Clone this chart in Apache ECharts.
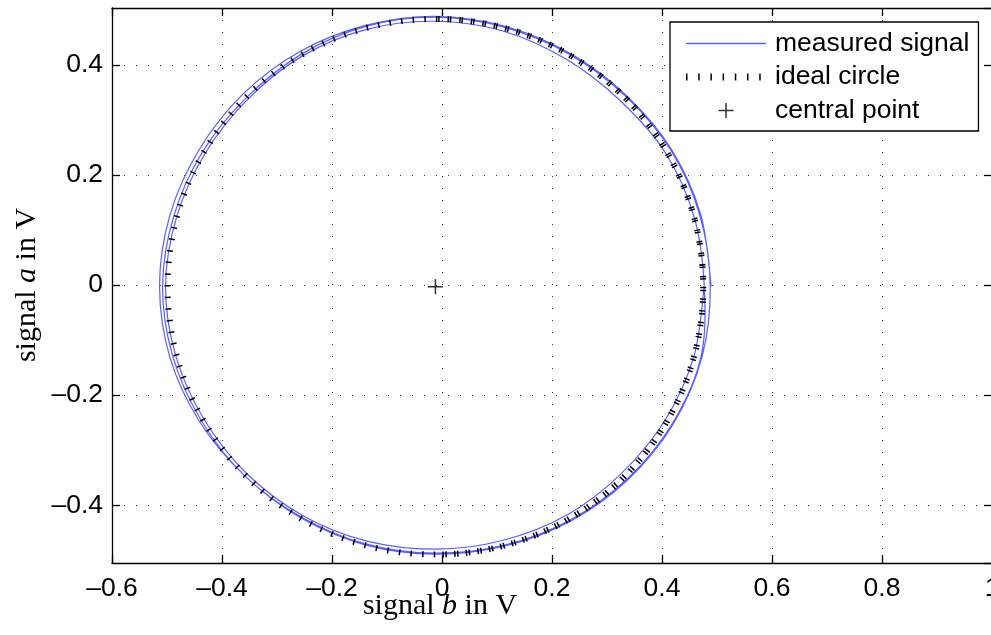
<!DOCTYPE html>
<html>
<head>
<meta charset="utf-8">
<script src="https://cdn.jsdelivr.net/npm/echarts@6/dist/echarts.min.js"></script>
<style>
	html, body { margin: 0; padding: 0; background: #fff; }
	#container { width: 991px; height: 635px; }
</style>
</head>
<body>
<div id="container"></div>
<script>
	/*measured signal, three loops: signal b (x) and signal a (y), in V*/
	var measuredB = [
		0.4895, 0.4707, 0.4176, 0.3349, 0.2324, 0.1145, -0.012, -0.139, -0.2583, -0.3615, -0.4416, -0.4947,
		-0.5135, -0.4947, -0.4401, -0.3576, -0.2555, -0.138, -0.012, 0.1145, 0.2343, 0.3388, 0.4207, 0.4724,
		0.4877, 0.4689, 0.4161, 0.3336, 0.2315, 0.114, -0.012, -0.1385, -0.2555, -0.3551, -0.4353, -0.4877,
		-0.5081, -0.4894, -0.4369, -0.3576, -0.2546, -0.1376, -0.012, 0.114, 0.2333, 0.3375, 0.4192, 0.4707,
		0.4768, 0.4584, 0.4066, 0.3247, 0.2261, 0.1121, -0.012, -0.1371, -0.2537, -0.3525, -0.4306, -0.4824,
		-0.5026, -0.4841, -0.4322, -0.3538, -0.2528, -0.1361, -0.012, 0.1117, 0.2279, 0.3272, 0.4066, 0.4584, 0.4768
	];
	var measuredA = [
		-0.002, 0.1273, 0.2461, 0.3449, 0.4213, 0.4701, 0.4886, 0.4719, 0.4245, 0.3475, 0.2461, 0.1273,
		-0.002, -0.1313, -0.2492, -0.3476, -0.4238, -0.4724, -0.489, -0.4741, -0.4285, -0.3528, -0.2519, -0.1318,
		-0.002, 0.1269, 0.2452, 0.3436, 0.4198, 0.4684, 0.4868, 0.4701, 0.4198, 0.3411, 0.2424, 0.1255,
		-0.002, -0.1299, -0.2473, -0.3476, -0.4222, -0.4707, -0.4872, -0.4724, -0.4269, -0.3515, -0.251, -0.1313,
		-0.002, 0.124, 0.2397, 0.3347, 0.4103, 0.4613, 0.4795, 0.4649, 0.4166, 0.3385, 0.2397, 0.124,
		-0.002, -0.1285, -0.2446, -0.3438, -0.419, -0.4653, -0.4799, -0.4636, -0.4174, -0.3412, -0.2437, -0.128, -0.002
	];
	/*ideal circle: centre b, centre a, radius*/
	var idealCircle = [-0.012, -0.003, 0.487];
	var centralPoint = [-0.012, -0.003];
	var legendNames = ['measured signal', 'ideal circle', 'central point'];
	var xRange = [-0.6, 1.0];
	var yRange = [-0.505, 0.5036];

	var blue = '#5c5cff';
	var labelFont = 'Liberation Sans';
	var titleFont = 'Liberation Serif';

	function tickText(v) {
		var s = String(+v.toFixed(1));
		return s.replace('-', '\u2013');
	}

	var measured = [];
	for (var i = 0; i < measuredB.length; i++) {
		measured.push([measuredB[i], measuredA[i]]);
	}

	var gridLine = { show: true, lineStyle: { color: '#333', width: 1, type: [1, 11] } };
	var boxLine = { show: true, onZero: false, lineStyle: { color: '#000', width: 1.3 } };
	var tick = { show: true, inside: true, length: 8, lineStyle: { color: '#000', width: 1.3 } };

	// legend icons, 84x16 box
	var iconBox = 'M0,0h0.01v0.01h-0.01zM83.99,15.99h0.01v0.01h-0.01z';
	var iconLine = 'path://' + iconBox + 'M0,7.3h80v1.4h-80z';
	var iconDots = 'path://' + iconBox + 'M0,4.5h1.5v7h-1.5zM12.2,4.5h1.5v7h-1.5zM24.4,4.5h1.5v7h-1.5zM36.6,4.5h1.5v7h-1.5zM48.8,4.5h1.5v7h-1.5zM61,4.5h1.5v7h-1.5zM73.2,4.5h1.5v7h-1.5z';
	var iconPlus = 'path://' + iconBox + 'M32.5,7.3h15v1.5h-15zM39.25,0.5h1.5v15h-1.5z';

	/*measured trace as one smooth path (catmull-rom through the points)*/
	function renderMeasured(params, api) {
		if (params.dataIndex > 0) {
			return null;
		}
		var pts = [];
		for (var i = 0; i < measured.length; i++) {
			pts.push(api.coord(measured[i]));
		}
		var n = pts.length;
		var d = 'M' + pts[0][0] + ',' + pts[0][1];
		for (var j = 0; j < n - 1; j++) {
			var p0 = pts[Math.max(j - 1, 0)];
			var p1 = pts[j];
			var p2 = pts[j + 1];
			var p3 = pts[Math.min(j + 2, n - 1)];
			d += 'C' + (p1[0] + (p2[0] - p0[0]) / 6) + ',' + (p1[1] + (p2[1] - p0[1]) / 6) +
				',' + (p2[0] - (p3[0] - p1[0]) / 6) + ',' + (p2[1] - (p3[1] - p1[1]) / 6) +
				',' + p2[0] + ',' + p2[1];
		}
		return {
			type: 'path',
			shape: { pathData: d },
			style: { fill: 'none', stroke: blue, lineWidth: 1.2 }
		};
	}

	/*ideal circle with dotted stroke, right half traced twice*/
	function renderCircle(params, api) {
		var c = api.coord([api.value(0), api.value(1)]);
		var r = api.size([api.value(2), 0])[0];
		var period = 2 * Math.PI * r / 144;
		var dash = [1.5, period - 1.5];
		return {
			type: 'group',
			children: [{
				type: 'circle',
				shape: { cx: c[0], cy: c[1], r: r },
				style: { fill: 'none', stroke: '#000', lineWidth: 6, lineDash: dash }
			}, {
				type: 'arc',
				shape: { cx: c[0], cy: c[1], r: r, startAngle: -Math.PI / 2, endAngle: Math.PI / 2, clockwise: true },
				style: { fill: 'none', stroke: '#000', lineWidth: 6, lineDash: dash, lineDashOffset: -2.8 }
			}]
		};
	}

	var echart = echarts.init(document.getElementById('container'));
	var option = {
		animation: false,
		backgroundColor: '#fff',
		grid: { left: 112, right: -1, top: 8, bottom: 72, containLabel: false, outerBoundsMode: 'none' },
		xAxis: [{
			type: 'value', min: xRange[0], max: xRange[1], interval: 0.2,
			axisLine: boxLine, axisTick: tick, splitLine: gridLine,
			axisLabel: {
				margin: 12, color: '#000', fontFamily: labelFont, fontSize: 26.5,
				showMinLabel: true, showMaxLabel: true, hideOverlap: false, formatter: tickText
			}
		}, {
			type: 'value', position: 'top', min: xRange[0], max: xRange[1], interval: 0.2,
			axisLine: boxLine, axisTick: tick, splitLine: { show: false }, axisLabel: { show: false }
		}],
		yAxis: [{
			type: 'value', min: yRange[0], max: yRange[1], splitNumber: 5,
			axisLine: boxLine, axisTick: tick, splitLine: gridLine,
			axisLabel: {
				margin: 9, color: '#000', fontFamily: labelFont, fontSize: 26.5,
				showMinLabel: false, showMaxLabel: false, formatter: tickText
			}
		}, {
			type: 'value', position: 'right', min: yRange[0], max: yRange[1], splitNumber: 5,
			axisLine: boxLine, axisTick: tick, splitLine: { show: false }, axisLabel: { show: false }
		}],
		legend: {
			orient: 'vertical', left: 670, top: 22,
			padding: [8, 9, 7, 16],
			itemWidth: 84, itemHeight: 16, itemGap: 6.5,
			backgroundColor: '#fff', borderColor: '#000', borderWidth: 1.3, borderRadius: 0,
			selectedMode: false,
			textStyle: { color: '#000', fontFamily: labelFont, fontSize: 26.5, lineHeight: 26 },
			data: [
				{ name: legendNames[0], icon: iconLine, itemStyle: { color: blue, borderWidth: 0 } },
				{ name: legendNames[1], icon: iconDots, itemStyle: { color: '#000', borderWidth: 0 } },
				{ name: legendNames[2], icon: iconPlus, itemStyle: { color: '#000', borderWidth: 0 } }
			]
		},
		graphic: [{
			type: 'text', x: 440, y: 606,
			style: {
				text: '{r|signal }{i|b}{r| in V}', align: 'center', verticalAlign: 'middle',
				rich: {
					r: { fontFamily: titleFont, fontSize: 30, fill: '#000' },
					i: { fontFamily: titleFont, fontSize: 30, fontStyle: 'italic', fill: '#000' }
				}
			}
		}, {
			type: 'text', x: 27, y: 285, rotation: Math.PI / 2,
			style: {
				text: '{r|signal }{i|a}{r| in V}', align: 'center', verticalAlign: 'middle',
				rich: {
					r: { fontFamily: titleFont, fontSize: 30, fill: '#000' },
					i: { fontFamily: titleFont, fontSize: 30, fontStyle: 'italic', fill: '#000' }
				}
			}
		}],
		series: [{
			name: legendNames[0],
			type: 'custom',
			data: measured,
			color: blue,
			itemStyle: { color: blue },
			renderItem: renderMeasured,
			z: 2
		}, {
			name: legendNames[1],
			type: 'custom',
			data: [idealCircle],
			color: '#000',
			itemStyle: { color: '#000' },
			renderItem: renderCircle,
			z: 3
		}, {
			name: legendNames[2],
			type: 'scatter',
			data: [centralPoint],
			symbol: 'path://M0,6.75h15v1.5h-15zM6.75,0h1.5v15h-1.5z',
			symbolSize: 15,
			color: '#000',
			itemStyle: { color: '#000' },
			z: 4
		}]
	};
	echart.setOption(option);
</script>
</body>
</html>
